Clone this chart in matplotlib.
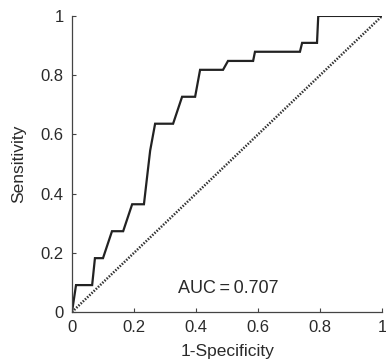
import numpy as np
import matplotlib
matplotlib.use('Agg')
import matplotlib.pyplot as plt

plt.rcParams['font.family'] = ['Liberation Sans', 'DejaVu Sans']

# ROC curve vertices
fpr = [0.0, 0.013, 0.065, 0.074, 0.100, 0.129, 0.165, 0.194, 0.232, 0.242,
       0.252, 0.268, 0.326, 0.355, 0.397, 0.413, 0.487, 0.503, 0.584, 0.590,
       0.735, 0.742, 0.790, 0.794, 1.0]
tpr = [0.0, 0.091, 0.091, 0.182, 0.182, 0.273, 0.273, 0.364, 0.364, 0.455,
       0.545, 0.636, 0.636, 0.727, 0.727, 0.818, 0.818, 0.848, 0.848, 0.879,
       0.879, 0.909, 0.909, 1.0, 1.0]
auc = 0.707
ticks = [0, 0.2, 0.4, 0.6, 0.8, 1]
tick_labels = ['0', '0.2', '0.4', '0.6', '0.8', '1']

fig = plt.figure(figsize=(3.86, 3.62), dpi=100)
ax = fig.add_axes([0.1865, 0.138, 0.8035, 0.818])

ax.plot([0, 1], [0, 1], color='#333333', lw=1.8, ls=(0, (0.6, 0.6)))
ax.plot(fpr, tpr, color='#222222', lw=1.6, solid_joinstyle='miter')

ax.text(0.342, 0.078, 'AUC\u2009=\u2009%.3f' % auc,
        fontsize=13, color='#2a2a2a', va='center', ha='left')

ax.set_xlim(0, 1)
ax.set_ylim(0, 1)
ax.set_xticks(ticks)
ax.set_xticklabels(tick_labels)
ax.set_yticks(ticks)
ax.set_yticklabels(tick_labels)
ax.tick_params(direction='in', length=3, width=0.8, colors='#444444',
               labelcolor='#2a2a2a', labelsize=12, pad=6)
for s in ['top', 'right']:
    ax.spines[s].set_visible(False)
for s in ['left', 'bottom']:
    ax.spines[s].set_color('#444444')
    ax.spines[s].set_linewidth(0.9)

ax.set_xlabel('1-Specificity', fontsize=12.5, color='#2a2a2a', labelpad=6)
ax.set_ylabel('Sensitivity', fontsize=12.5, color='#2a2a2a', labelpad=10)

fig.savefig('out.png', dpi=100)
